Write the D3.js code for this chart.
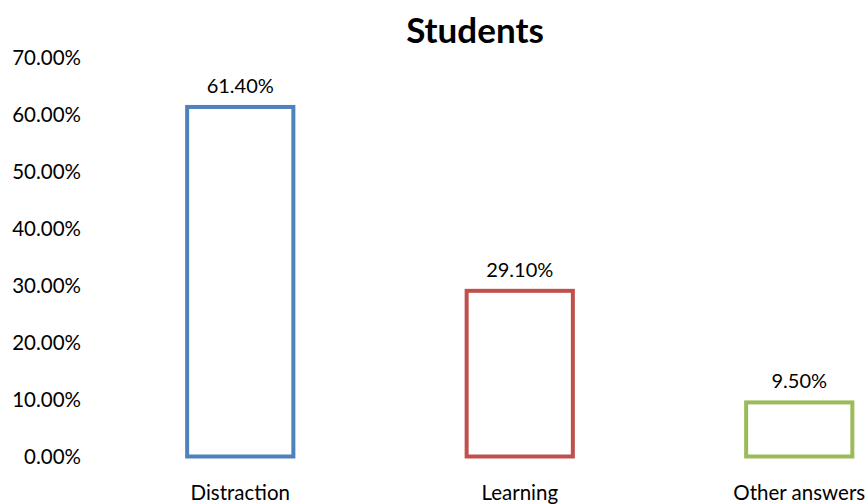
<!DOCTYPE html>
<html>
<head>
<meta charset="utf-8">
<script src="https://cdn.jsdelivr.net/npm/d3@7"></script>
<style>
  html, body { margin: 0; padding: 0; background: #fff; }
  svg { display: block; }
  text { font-family: Lato, "Liberation Sans", sans-serif; fill: #000; }
</style>
</head>
<body>
<svg id="chart" width="867" height="504"></svg>
<script>
// Survey results: share of students per answer
const categories = ["Distraction", "Learning", "Other answers"];
const values = [61.4, 29.1, 9.5];
const barColors = ["#4F81BD", "#C0504D", "#9BBB59"];
const yTicks = [0, 10, 20, 30, 40, 50, 60, 70];
const title = "Students";

const svg = d3.select("#chart");

const x = d3.scaleBand()
  .domain(categories)
  .range([100.5, 939])
  .paddingInner(0.62)
  .paddingOuter(0.31);

const y = d3.scaleLinear()
  .domain([0, 70])
  .range([456.5, 58]);

// Title
svg.append("text")
  .attr("x", 475)
  .attr("y", 43)
  .attr("text-anchor", "middle")
  .style("font-size", "35px")
  .style("font-weight", "bold")
  .text(title);

// Y axis labels only (no axis line or gridlines)
const yAxis = d3.axisLeft(y)
  .tickValues(yTicks)
  .tickSize(0)
  .tickPadding(0)
  .tickFormat(d => d.toFixed(2) + "%");

const yg = svg.append("g")
  .attr("transform", "translate(81,0)")
  .call(yAxis);
yg.select(".domain").remove();
yg.selectAll("text")
  .style("font-size", "20.5px")
  .style("font-family", "Lato, sans-serif")
  .attr("fill", "#000");

// X axis category labels
const xAxis = d3.axisBottom(x).tickSize(0).tickPadding(0);
const xg = svg.append("g")
  .attr("transform", "translate(0,485)")
  .call(xAxis);
xg.select(".domain").remove();
xg.selectAll("text")
  .style("font-size", "20.5px")
  .style("font-family", "Lato, sans-serif")
  .attr("fill", "#000");

// Outlined bars
svg.append("g").selectAll("rect")
  .data(values)
  .join("rect")
  .attr("x", (d, i) => x(categories[i]))
  .attr("y", d => y(d))
  .attr("width", x.bandwidth())
  .attr("height", d => y(0) - y(d))
  .attr("fill", "#fff")
  .attr("stroke", (d, i) => barColors[i])
  .attr("stroke-width", 4);

// Value labels above bars
svg.append("g").selectAll("text")
  .data(values)
  .join("text")
  .attr("x", (d, i) => x(categories[i]) + x.bandwidth() / 2)
  .attr("y", d => y(d) - 14)
  .attr("text-anchor", "middle")
  .style("font-size", "20px")
  .text(d => d.toFixed(2) + "%");
</script>
</body>
</html>
